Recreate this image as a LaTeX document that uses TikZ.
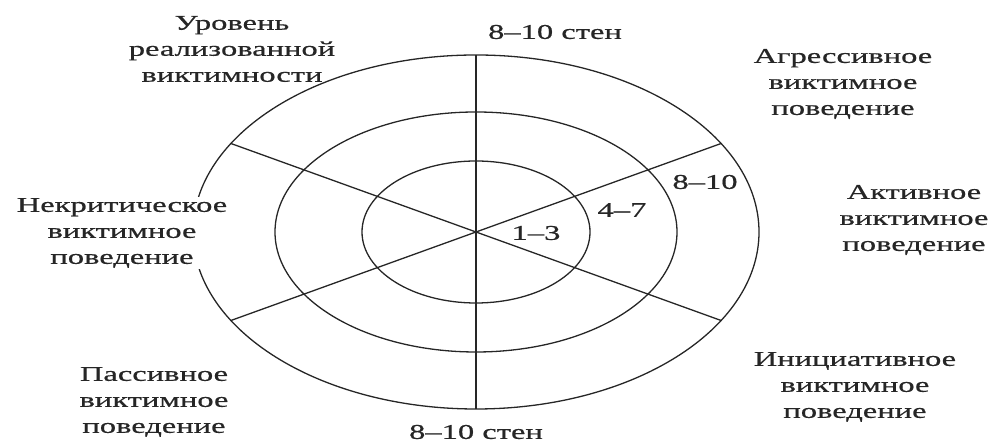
\documentclass[tikz,border=0pt]{standalone}
\usepackage{fontspec}
\setmainfont[FakeStretch=1.55,FakeBold=0.6]{Liberation Serif}
\begin{document}
\begin{tikzpicture}[x=1pt,y=1pt,
  lbl/.style={align=center, font=\fontsize{21}{26}\selectfont, inner sep=0pt, text=black!85},
  ring/.style={line width=1.3pt, black!85},
  spoke/.style={line width=1.3pt, black!85}]
\useasboundingbox (0,0) rectangle (994,443);
\coordinate (c) at (476,211);
% rings
\draw[ring] (c) ellipse [x radius=283, y radius=177];
\draw[ring] (c) ellipse [x radius=201, y radius=120];
\draw[ring] (c) ellipse [x radius=114, y radius=71];
% spoke ends on the outer ring
\path (c) ++(30:283pt and 177pt) coordinate (p30);
\path (c) ++(150:283pt and 177pt) coordinate (p150);
\path (c) ++(210:283pt and 177pt) coordinate (p210);
\path (c) ++(330:283pt and 177pt) coordinate (p330);
\path (c) ++(0,177) coordinate (ptop);
\path (c) ++(0,-177) coordinate (pbot);
\draw[spoke] (c) -- (p30);
\draw[spoke] (c) -- (p150);
\draw[spoke] (c) -- (p210);
\draw[spoke] (c) -- (p330);
\draw[spoke, line width=1.6pt] (ptop) -- (pbot);
% labels
\node[lbl] (lvl) at (232,394) {Уровень\\реализованной\\виктимности};
\node[lbl] (stentop) at (555,411) {8–10 стен};
\node[lbl] (stenbot) at (476,11) {8–10 стен};
\node[lbl] (agr) at (843,359) {Агрессивное\\виктимное\\поведение};
\node[lbl] (act) at (914,223) {Активное\\виктимное\\поведение};
\node[lbl] (init) at (855,56) {Инициативное\\виктимное\\поведение};
\node[lbl, fill=white, inner sep=1pt] (nekr) at (122,210) {Некритическое\\виктимное\\поведение};
\node[lbl] (pass) at (154,41) {Пассивное\\виктимное\\поведение};
\node[lbl] (s13) at (536,210) {1–3};
\node[lbl] (s47) at (622,233) {4–7};
\node[lbl] (s810) at (705,261) {8–10};
\end{tikzpicture}
\end{document}
